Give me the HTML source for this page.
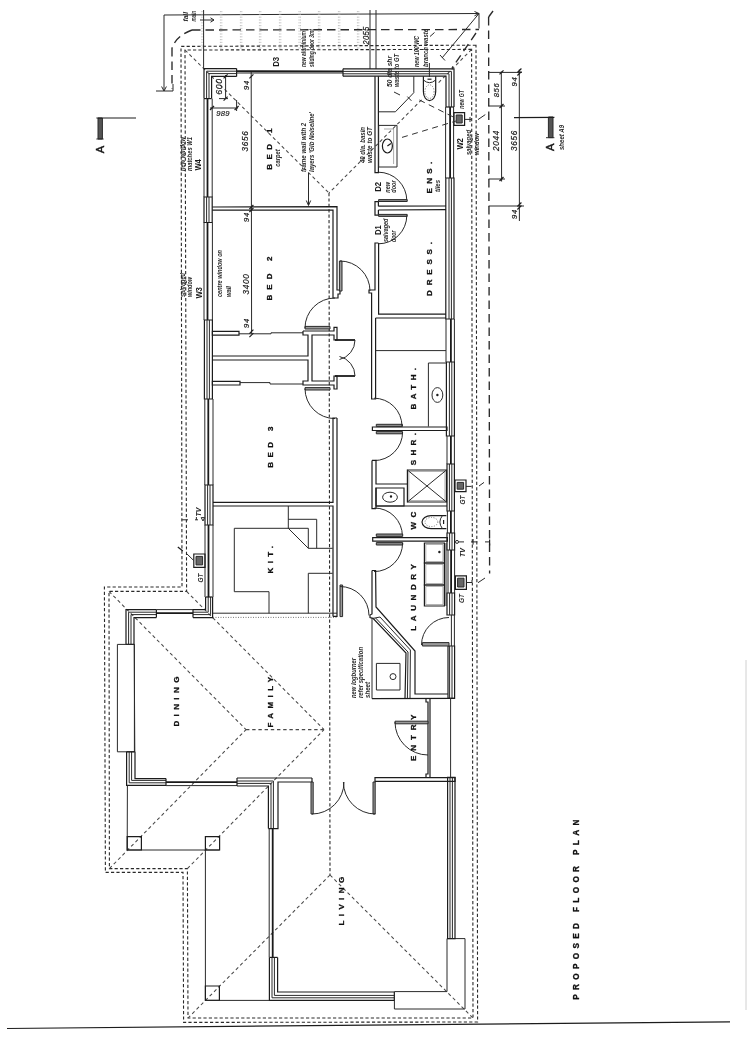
<!DOCTYPE html>
<html><head><meta charset="utf-8"><title>Proposed Floor Plan</title>
<style>
html,body{margin:0;padding:0;background:#fff;}
body{width:749px;height:1060px;overflow:hidden;}
svg{display:block;filter:blur(0.3px)}
text{font-family:"Liberation Sans",sans-serif;fill:#222;}
.i{font-style:italic;stroke:#222;stroke-width:0.2px;}
.ib{font-style:italic;font-weight:bold;fill:#2a2a2a;}
.r{font-weight:bold;fill:#111;stroke:#111;stroke-width:0.3px;}
.b{font-weight:bold;fill:#1a1a1a;}
.a{font-weight:normal;fill:#111;stroke:#111;stroke-width:0.45px;}
</style></head><body>
<svg width="749" height="1060" viewBox="0 0 749 1060">
<rect width="749" height="1060" fill="#fff"/>
<line x1="7" y1="1028.5" x2="730" y2="1021.8" stroke="#1c1c1c" stroke-width="1.2"/>
<line x1="746" y1="660" x2="746" y2="1010" stroke="#d0d0d0" stroke-width="1"/>
<line x1="164" y1="15" x2="479" y2="13.5" stroke="#2a2a2a" stroke-width="1"/>
<line x1="164" y1="15" x2="164" y2="91" stroke="#2a2a2a" stroke-width="1"/>
<polyline points="161.6,86.5 164,91 166.4,86.5" fill="none" stroke="#2a2a2a" stroke-width="1"/>
<line x1="156" y1="91" x2="173" y2="91" stroke="#2a2a2a" stroke-width="1"/>
<polyline points="474.5,11.5 479,13.5 474.5,15.8" fill="none" stroke="#2a2a2a" stroke-width="1"/>
<line x1="479" y1="13.5" x2="479" y2="28.5" stroke="#2a2a2a" stroke-width="1"/>
<line x1="479" y1="13.5" x2="442" y2="58" stroke="#2a2a2a" stroke-width="1"/>
<line x1="440" y1="55" x2="445" y2="60.5" stroke="#2a2a2a" stroke-width="1"/>
<line x1="200" y1="20" x2="214" y2="20" stroke="#2a2a2a" stroke-width="1"/>
<polyline points="210.5,17.8 214,20 210.5,22.2" fill="none" stroke="#2a2a2a" stroke-width="1"/>
<line x1="192" y1="30" x2="479" y2="29.5" stroke="#2a2a2a" stroke-width="1.35" stroke-dasharray="8.5 5"/>
<path d="M192 30 Q176 36 172 48" fill="none" stroke="#2a2a2a" stroke-width="1.35" stroke-dasharray="8.5 5"/>
<line x1="172" y1="48" x2="172" y2="89" stroke="#2a2a2a" stroke-width="1.35" stroke-dasharray="8.5 5"/>
<line x1="173" y1="84" x2="173" y2="91" stroke="#2a2a2a" stroke-width="1"/>
<line x1="488.6" y1="17" x2="489.6" y2="573.5" stroke="#2a2a2a" stroke-width="1.35" stroke-dasharray="8.5 5"/>
<line x1="493" y1="11" x2="488.6" y2="17" stroke="#2a2a2a" stroke-width="1.35" stroke-dasharray="8.5 5"/>
<line x1="476" y1="33" x2="452" y2="68" stroke="#2a2a2a" stroke-width="1.35" stroke-dasharray="8.5 5"/>
<line x1="201.9" y1="11" x2="201.9" y2="50" stroke="#aaa" stroke-width="0.7" stroke-dasharray="1.2 1.6"/>
<line x1="203.3" y1="11" x2="203.3" y2="50" stroke="#aaa" stroke-width="0.7" stroke-dasharray="1.2 1.6"/>
<line x1="220.4" y1="11" x2="220.4" y2="50" stroke="#aaa" stroke-width="0.7" stroke-dasharray="1.2 1.6"/>
<line x1="221.8" y1="11" x2="221.8" y2="50" stroke="#aaa" stroke-width="0.7" stroke-dasharray="1.2 1.6"/>
<line x1="240.4" y1="11" x2="240.4" y2="50" stroke="#aaa" stroke-width="0.7" stroke-dasharray="1.2 1.6"/>
<line x1="241.8" y1="11" x2="241.8" y2="50" stroke="#aaa" stroke-width="0.7" stroke-dasharray="1.2 1.6"/>
<line x1="259.4" y1="11" x2="259.4" y2="50" stroke="#aaa" stroke-width="0.7" stroke-dasharray="1.2 1.6"/>
<line x1="260.8" y1="11" x2="260.8" y2="50" stroke="#aaa" stroke-width="0.7" stroke-dasharray="1.2 1.6"/>
<line x1="279.4" y1="11" x2="279.4" y2="50" stroke="#aaa" stroke-width="0.7" stroke-dasharray="1.2 1.6"/>
<line x1="280.8" y1="11" x2="280.8" y2="50" stroke="#aaa" stroke-width="0.7" stroke-dasharray="1.2 1.6"/>
<line x1="299" y1="11" x2="299" y2="50" stroke="#aaa" stroke-width="0.7" stroke-dasharray="1.2 1.6"/>
<line x1="300.4" y1="11" x2="300.4" y2="50" stroke="#aaa" stroke-width="0.7" stroke-dasharray="1.2 1.6"/>
<line x1="318.4" y1="11" x2="318.4" y2="50" stroke="#aaa" stroke-width="0.7" stroke-dasharray="1.2 1.6"/>
<line x1="319.8" y1="11" x2="319.8" y2="50" stroke="#aaa" stroke-width="0.7" stroke-dasharray="1.2 1.6"/>
<line x1="338.4" y1="11" x2="338.4" y2="50" stroke="#aaa" stroke-width="0.7" stroke-dasharray="1.2 1.6"/>
<line x1="339.8" y1="11" x2="339.8" y2="50" stroke="#aaa" stroke-width="0.7" stroke-dasharray="1.2 1.6"/>
<line x1="357.4" y1="11" x2="357.4" y2="50" stroke="#aaa" stroke-width="0.7" stroke-dasharray="1.2 1.6"/>
<line x1="358.8" y1="11" x2="358.8" y2="50" stroke="#aaa" stroke-width="0.7" stroke-dasharray="1.2 1.6"/>
<line x1="203.6" y1="10" x2="203.6" y2="68" stroke="#2a2a2a" stroke-width="1"/>
<line x1="370" y1="10" x2="370" y2="69" stroke="#2a2a2a" stroke-width="1"/>
<line x1="376" y1="10" x2="376" y2="69" stroke="#2a2a2a" stroke-width="1"/>
<text transform="translate(369 35.5) rotate(-90) scale(0.95 1)" class="i" font-size="8.2" text-anchor="middle" letter-spacing="0.3">2055</text>
<polygon points="476,45.2 181,46.4 182,587 104.4,587 105.4,872.4 183,872.4 183.6,1022.4 477.6,1022 476,45.2" fill="none" stroke="#2a2a2a" stroke-width="1.1" stroke-dasharray="3.2 2.2"/>
<polygon points="471.6,49.4 185,50 186.6,591.4 109,591.4 109.4,868.6 187.4,868.6 188,1018 473,1018 471.6,49.4" fill="none" stroke="#2a2a2a" stroke-width="1.1" stroke-dasharray="3.2 2.2"/>
<line x1="185" y1="50" x2="329" y2="193" stroke="#484848" stroke-width="1.05" stroke-dasharray="3.4 2.8"/>
<line x1="471.6" y1="49.4" x2="437.4" y2="83.9" stroke="#484848" stroke-width="1.05" stroke-dasharray="3.4 2.8"/>
<line x1="421.6" y1="99.8" x2="329" y2="193" stroke="#484848" stroke-width="1.05" stroke-dasharray="3.4 2.8"/>
<line x1="329" y1="193" x2="330" y2="875" stroke="#2a2a2a" stroke-width="1.1" stroke-dasharray="3.2 2.2"/>
<line x1="330" y1="875" x2="188" y2="1018" stroke="#484848" stroke-width="1.05" stroke-dasharray="3.4 2.8"/>
<line x1="330" y1="875" x2="473" y2="1018" stroke="#484848" stroke-width="1.05" stroke-dasharray="3.4 2.8"/>
<line x1="109" y1="591.4" x2="246" y2="729.6" stroke="#484848" stroke-width="1.05" stroke-dasharray="3.4 2.8"/>
<line x1="109.4" y1="868.6" x2="246" y2="729.6" stroke="#484848" stroke-width="1.05" stroke-dasharray="3.4 2.8"/>
<line x1="246" y1="729.6" x2="324" y2="729.6" stroke="#484848" stroke-width="1.05" stroke-dasharray="3.4 2.8"/>
<line x1="186.6" y1="591.4" x2="324" y2="729.6" stroke="#484848" stroke-width="1.05" stroke-dasharray="3.4 2.8"/>
<line x1="187.4" y1="868.6" x2="324" y2="729.6" stroke="#484848" stroke-width="1.05" stroke-dasharray="3.4 2.8"/>
<polyline points="236.6,68.6 204,68.6 204,98.6" fill="none" stroke="#1c1c1c" stroke-width="1.2"/>
<polyline points="236.6,71.2 206.6,71.2 206.6,98.6" fill="none" stroke="#2a2a2a" stroke-width="1"/>
<polyline points="236.6,73.6 209,73.6 209,98.6" fill="none" stroke="#2a2a2a" stroke-width="1"/>
<polyline points="236.6,76.4 211.6,76.4 211.6,98.6" fill="none" stroke="#1c1c1c" stroke-width="1.2"/>
<line x1="236.6" y1="68.6" x2="236.6" y2="76.4" stroke="#1c1c1c" stroke-width="1.2"/>
<line x1="204" y1="98.6" x2="211.6" y2="98.6" stroke="#1c1c1c" stroke-width="1.2"/>
<polyline points="343,68.8 454,68.8 454,107" fill="none" stroke="#1c1c1c" stroke-width="1.2"/>
<polyline points="343,71.4 451.4,71.4 451.4,107" fill="none" stroke="#2a2a2a" stroke-width="1"/>
<polyline points="343,73.8 449,73.8 449,107" fill="none" stroke="#2a2a2a" stroke-width="1"/>
<polyline points="343,76.2 446,76.2 446,107" fill="none" stroke="#1c1c1c" stroke-width="1.2"/>
<line x1="343" y1="68.8" x2="343" y2="76.2" stroke="#1c1c1c" stroke-width="1.2"/>
<line x1="454" y1="107" x2="446" y2="107" stroke="#1c1c1c" stroke-width="1.2"/>
<line x1="236.6" y1="71.2" x2="343" y2="71.4" stroke="#1a1a1a" stroke-width="1.8"/>
<line x1="236.6" y1="73" x2="343" y2="73" stroke="#2a2a2a" stroke-width="1"/>
<line x1="204" y1="98.6" x2="204" y2="197" stroke="#2a2a2a" stroke-width="1"/>
<line x1="207.5" y1="98.6" x2="207.5" y2="197" stroke="#1a1a1a" stroke-width="1.8"/>
<line x1="212.2" y1="98.6" x2="212.2" y2="197" stroke="#2a2a2a" stroke-width="1"/>
<polygon points="204,197 212.2,197 212.2,222.5 204,222.5" fill="none" stroke="#1c1c1c" stroke-width="1.2"/>
<line x1="206.6" y1="197" x2="206.6" y2="222.5" stroke="#2a2a2a" stroke-width="1"/>
<line x1="209" y1="197" x2="209" y2="222.5" stroke="#2a2a2a" stroke-width="1"/>
<line x1="204" y1="222.5" x2="204" y2="320" stroke="#2a2a2a" stroke-width="1"/>
<line x1="207.5" y1="222.5" x2="207.5" y2="320" stroke="#1a1a1a" stroke-width="1.8"/>
<line x1="212.4" y1="222.5" x2="212.4" y2="320" stroke="#2a2a2a" stroke-width="1"/>
<polygon points="204.4,320 212.4,320 212.4,399 204.4,399" fill="none" stroke="#1c1c1c" stroke-width="1.2"/>
<line x1="207" y1="320" x2="207" y2="399" stroke="#2a2a2a" stroke-width="1"/>
<line x1="209.4" y1="320" x2="209.4" y2="399" stroke="#2a2a2a" stroke-width="1"/>
<line x1="204.8" y1="399" x2="204.8" y2="485" stroke="#2a2a2a" stroke-width="1"/>
<line x1="208.3" y1="399" x2="208.3" y2="485" stroke="#1a1a1a" stroke-width="1.8"/>
<line x1="213" y1="399" x2="213" y2="485" stroke="#2a2a2a" stroke-width="1"/>
<polygon points="205,485 213,485 213,525 205,525" fill="none" stroke="#1c1c1c" stroke-width="1.2"/>
<line x1="207.6" y1="485" x2="207.6" y2="525" stroke="#2a2a2a" stroke-width="1"/>
<line x1="210" y1="485" x2="210" y2="525" stroke="#2a2a2a" stroke-width="1"/>
<line x1="205" y1="525" x2="205" y2="597" stroke="#2a2a2a" stroke-width="1"/>
<line x1="208.5" y1="525" x2="208.5" y2="597" stroke="#1a1a1a" stroke-width="1.8"/>
<line x1="213" y1="525" x2="213" y2="597" stroke="#2a2a2a" stroke-width="1"/>
<line x1="453.6" y1="107" x2="453.6" y2="178" stroke="#2a2a2a" stroke-width="1"/>
<line x1="450.1" y1="107" x2="450.1" y2="178" stroke="#1a1a1a" stroke-width="1.8"/>
<line x1="445.6" y1="107" x2="445.6" y2="178" stroke="#2a2a2a" stroke-width="1"/>
<polygon points="454,178 445.8,178 445.8,319 454,319" fill="none" stroke="#1c1c1c" stroke-width="1.2"/>
<line x1="451.4" y1="178" x2="451.4" y2="319" stroke="#2a2a2a" stroke-width="1"/>
<line x1="449" y1="178" x2="449" y2="319" stroke="#2a2a2a" stroke-width="1"/>
<line x1="454.4" y1="319" x2="454.4" y2="362" stroke="#2a2a2a" stroke-width="1"/>
<line x1="450.9" y1="319" x2="450.9" y2="362" stroke="#1a1a1a" stroke-width="1.8"/>
<line x1="446" y1="319" x2="446" y2="362" stroke="#2a2a2a" stroke-width="1"/>
<polygon points="454.4,362 446.4,362 446.4,436 454.4,436" fill="none" stroke="#1c1c1c" stroke-width="1.2"/>
<line x1="451.8" y1="362" x2="451.8" y2="436" stroke="#2a2a2a" stroke-width="1"/>
<line x1="449.4" y1="362" x2="449.4" y2="436" stroke="#2a2a2a" stroke-width="1"/>
<line x1="454.4" y1="436" x2="454.4" y2="464" stroke="#2a2a2a" stroke-width="1"/>
<line x1="450.9" y1="436" x2="450.9" y2="464" stroke="#1a1a1a" stroke-width="1.8"/>
<line x1="447" y1="436" x2="447" y2="464" stroke="#2a2a2a" stroke-width="1"/>
<polygon points="454.4,464 447,464 447,511 454.4,511" fill="none" stroke="#1c1c1c" stroke-width="1.2"/>
<line x1="451.8" y1="464" x2="451.8" y2="511" stroke="#2a2a2a" stroke-width="1"/>
<line x1="449.4" y1="464" x2="449.4" y2="511" stroke="#2a2a2a" stroke-width="1"/>
<line x1="454.4" y1="511" x2="454.4" y2="533" stroke="#2a2a2a" stroke-width="1"/>
<line x1="450.9" y1="511" x2="450.9" y2="533" stroke="#1a1a1a" stroke-width="1.8"/>
<line x1="447.4" y1="511" x2="447.4" y2="533" stroke="#2a2a2a" stroke-width="1"/>
<polygon points="454.6,533 447,533 447,550 454.6,550" fill="none" stroke="#1c1c1c" stroke-width="1.2"/>
<line x1="452" y1="533" x2="452" y2="550" stroke="#2a2a2a" stroke-width="1"/>
<line x1="449.6" y1="533" x2="449.6" y2="550" stroke="#2a2a2a" stroke-width="1"/>
<line x1="454.6" y1="550" x2="454.6" y2="593" stroke="#2a2a2a" stroke-width="1"/>
<line x1="451.1" y1="550" x2="451.1" y2="593" stroke="#1a1a1a" stroke-width="1.8"/>
<line x1="448" y1="550" x2="448" y2="593" stroke="#2a2a2a" stroke-width="1"/>
<polygon points="454.6,593 447,593 447,615 454.6,615" fill="none" stroke="#1c1c1c" stroke-width="1.2"/>
<line x1="452" y1="593" x2="452" y2="615" stroke="#2a2a2a" stroke-width="1"/>
<line x1="449.6" y1="593" x2="449.6" y2="615" stroke="#2a2a2a" stroke-width="1"/>
<line x1="451.4" y1="615" x2="451.4" y2="646" stroke="#2a2a2a" stroke-width="1"/>
<line x1="454.4" y1="615" x2="454.4" y2="646" stroke="#2a2a2a" stroke-width="1"/>
<polygon points="454.6,646 448,646 448,698.4 454.6,698.4" fill="none" stroke="#1c1c1c" stroke-width="1.2"/>
<line x1="452" y1="646" x2="452" y2="698.4" stroke="#2a2a2a" stroke-width="1"/>
<line x1="449.6" y1="646" x2="449.6" y2="698.4" stroke="#2a2a2a" stroke-width="1"/>
<polyline points="156.4,609.6 126,609.6 126,644.4" fill="none" stroke="#1c1c1c" stroke-width="1.2"/>
<polyline points="156.4,612.2 128.6,612.2 128.6,644.4" fill="none" stroke="#2a2a2a" stroke-width="1"/>
<polyline points="156.4,614.6 131,614.6 131,644.4" fill="none" stroke="#2a2a2a" stroke-width="1"/>
<polyline points="156.4,617.6 134,617.6 134,644.4" fill="none" stroke="#1c1c1c" stroke-width="1.2"/>
<line x1="156.4" y1="609.6" x2="156.4" y2="617.6" stroke="#1c1c1c" stroke-width="1.2"/>
<line x1="126" y1="644.4" x2="134" y2="644.4" stroke="#1c1c1c" stroke-width="1.2"/>
<line x1="156.4" y1="609.6" x2="193" y2="609.6" stroke="#2a2a2a" stroke-width="1"/>
<line x1="156.4" y1="613.1" x2="193" y2="613.1" stroke="#1a1a1a" stroke-width="1.8"/>
<polyline points="193,609.6 205.6,609.6 205.6,597" fill="none" stroke="#1c1c1c" stroke-width="1.2"/>
<polyline points="193,612.2 208.2,612.2 208.2,597" fill="none" stroke="#2a2a2a" stroke-width="1"/>
<polyline points="193,614.6 210.6,614.6 210.6,597" fill="none" stroke="#2a2a2a" stroke-width="1"/>
<polyline points="193,617.6 212.6,617.6 212.6,597" fill="none" stroke="#1c1c1c" stroke-width="1.2"/>
<line x1="193" y1="609.6" x2="193" y2="617.6" stroke="#1c1c1c" stroke-width="1.2"/>
<line x1="205.6" y1="597" x2="212.6" y2="597" stroke="#1c1c1c" stroke-width="1.2"/>
<polygon points="117.4,644.4 134.4,644.4 134.4,751.8 117.4,751.8" fill="none" stroke="#2a2a2a" stroke-width="1"/>
<line x1="134.2" y1="644" x2="134.8" y2="752" stroke="#2a2a2a" stroke-width="1"/>
<polyline points="166,785.4 126.6,785.4 126.6,751.8" fill="none" stroke="#1c1c1c" stroke-width="1.2"/>
<polyline points="166,782.8 129.2,782.8 129.2,751.8" fill="none" stroke="#2a2a2a" stroke-width="1"/>
<polyline points="166,780.4 131.6,780.4 131.6,751.8" fill="none" stroke="#2a2a2a" stroke-width="1"/>
<polyline points="166,778.6 135,778.6 135,751.8" fill="none" stroke="#1c1c1c" stroke-width="1.2"/>
<line x1="166" y1="785.4" x2="166" y2="778.6" stroke="#1c1c1c" stroke-width="1.2"/>
<line x1="126.6" y1="751.8" x2="135" y2="751.8" stroke="#1c1c1c" stroke-width="1.2"/>
<line x1="166" y1="785.6" x2="237" y2="785.6" stroke="#2a2a2a" stroke-width="1"/>
<line x1="166" y1="782.1" x2="237" y2="782.1" stroke="#1a1a1a" stroke-width="1.8"/>
<polyline points="237,786 268.4,786 268.4,828.6" fill="none" stroke="#1c1c1c" stroke-width="1.2"/>
<polyline points="237,783.4 271,783.4 271,828.6" fill="none" stroke="#2a2a2a" stroke-width="1"/>
<polyline points="237,781 273.4,781 273.4,828.6" fill="none" stroke="#2a2a2a" stroke-width="1"/>
<line x1="237" y1="778" x2="312" y2="778" stroke="#1c1c1c" stroke-width="1.2"/>
<line x1="237" y1="778" x2="237" y2="786" stroke="#1c1c1c" stroke-width="1.2"/>
<polyline points="312,782 278,782 278,828.6 268.4,828.6" fill="none" stroke="#1c1c1c" stroke-width="1.2"/>
<line x1="269.2" y1="828.6" x2="269.2" y2="957.4" stroke="#2a2a2a" stroke-width="1"/>
<line x1="272.7" y1="828.6" x2="272.7" y2="957.4" stroke="#1a1a1a" stroke-width="1.8"/>
<polyline points="394.4,1000.4 269.4,1000.4 269.4,957.4" fill="none" stroke="#1c1c1c" stroke-width="1.2"/>
<polyline points="394.4,997.8 272,997.8 272,957.4" fill="none" stroke="#2a2a2a" stroke-width="1"/>
<polyline points="394.4,995.4 274.4,995.4 274.4,957.4" fill="none" stroke="#2a2a2a" stroke-width="1"/>
<polyline points="394.4,992 277.6,992 277.6,957.4" fill="none" stroke="#1c1c1c" stroke-width="1.2"/>
<line x1="394.4" y1="1000.4" x2="394.4" y2="992" stroke="#1c1c1c" stroke-width="1.2"/>
<line x1="269.4" y1="957.4" x2="277.6" y2="957.4" stroke="#1c1c1c" stroke-width="1.2"/>
<polygon points="394.4,991.6 394.4,1009 465,1009 465,938.6 447,938.6 447,991.6" fill="none" stroke="#2a2a2a" stroke-width="1"/>
<polygon points="455,777.4 447.6,777.4 447.6,938.6 455,938.6" fill="none" stroke="#1c1c1c" stroke-width="1.2"/>
<line x1="452.4" y1="777.4" x2="452.4" y2="938.6" stroke="#2a2a2a" stroke-width="1"/>
<line x1="450" y1="777.4" x2="450" y2="938.6" stroke="#2a2a2a" stroke-width="1"/>
<line x1="312" y1="778" x2="312" y2="782" stroke="#1c1c1c" stroke-width="1.2"/>
<polygon points="375,777.6 455,777.6 455,781.4 375,781.4" fill="none" stroke="#1c1c1c" stroke-width="1.2"/>
<line x1="127.4" y1="785.4" x2="127.2" y2="850" stroke="#2a2a2a" stroke-width="1"/>
<line x1="127.2" y1="850" x2="219.6" y2="850" stroke="#2a2a2a" stroke-width="1"/>
<polygon points="127.2,836.6 141.4,836.6 141.4,850 127.2,850" fill="none" stroke="#1c1c1c" stroke-width="1.2"/>
<polygon points="205.4,836.6 219.6,836.6 219.6,850 205.4,850" fill="none" stroke="#1c1c1c" stroke-width="1.2"/>
<line x1="205.4" y1="850" x2="205.4" y2="1000.4" stroke="#2a2a2a" stroke-width="1"/>
<polygon points="205.4,986 219.4,986 219.4,1000.4 205.4,1000.4" fill="none" stroke="#1c1c1c" stroke-width="1.2"/>
<line x1="205.4" y1="1000.4" x2="269.4" y2="1000.4" stroke="#2a2a2a" stroke-width="1"/>
<polyline points="212.2,207 337,206.6 337,290 340,290 340,294 338,294 338,298 334,298" fill="none" stroke="#1c1c1c" stroke-width="1.2"/>
<polyline points="212.2,210.2 333,210 333,298 334,298" fill="none" stroke="#1c1c1c" stroke-width="1.2"/>
<polyline points="375,76.2 375,172.7 378.4,172.7 378.4,76.2" fill="none" stroke="#1c1c1c" stroke-width="1.2"/>
<polyline points="378.4,206.2 378.4,201.6 375,201.6 375,215.2 378.4,215.2 378.4,210" fill="none" stroke="#1c1c1c" stroke-width="1.2"/>
<line x1="378.4" y1="206.2" x2="446" y2="206" stroke="#1c1c1c" stroke-width="1.2"/>
<line x1="378.4" y1="210" x2="446" y2="209.6" stroke="#1c1c1c" stroke-width="1.2"/>
<polyline points="378.4,243 375,243 375,290 369,290 369,293 371.6,293 371.6,399 375.6,399 375.6,318" fill="none" stroke="#1c1c1c" stroke-width="1.2"/>
<polyline points="378.6,243 378.6,314.2 446,314.2" fill="none" stroke="#1c1c1c" stroke-width="1.2"/>
<line x1="375.6" y1="318" x2="446" y2="318" stroke="#1c1c1c" stroke-width="1.2"/>
<line x1="375.6" y1="350.6" x2="446" y2="350.6" stroke="#2a2a2a" stroke-width="1"/>
<polyline points="446,363 428.4,363 428.4,426.5" fill="none" stroke="#2a2a2a" stroke-width="1"/>
<ellipse cx="437.4" cy="395" rx="5.4" ry="7.4" fill="none" stroke="#2a2a2a" stroke-width="1"/>
<ellipse cx="437.4" cy="395" rx="0.6" ry="0.6" fill="#222" stroke="#1c1c1c" stroke-width="1.2"/>
<polygon points="372.4,427 447,427 447,430.5 372.4,430.5" fill="none" stroke="#1c1c1c" stroke-width="1.2"/>
<polygon points="376.3,424.3 402.4,424.3 402.4,426.6 376.3,426.6" fill="#8a8a8a" stroke="#2a2a2a" stroke-width="1"/>
<polygon points="376.3,431.4 402.4,431.4 402.4,433.8 376.3,433.8" fill="#8a8a8a" stroke="#2a2a2a" stroke-width="1"/>
<path d="M374 398.2 A28 28 0 0 1 402 426.2" fill="none" stroke="#2a2a2a" stroke-width="1"/>
<path d="M402.6 432 A28.6 28.6 0 0 1 374 460.6" fill="none" stroke="#2a2a2a" stroke-width="1"/>
<polyline points="372,460.4 372,508.7 376,508.7" fill="none" stroke="#1c1c1c" stroke-width="1.2"/>
<polyline points="372,460.4 376,460.4 376,484 407,484" fill="none" stroke="#1c1c1c" stroke-width="1.2"/>
<line x1="376" y1="487.8" x2="376" y2="508.7" stroke="#1c1c1c" stroke-width="1.2"/>
<polygon points="376,488 404,488 404,506 376,506" fill="none" stroke="#1c1c1c" stroke-width="1.2"/>
<line x1="376" y1="506" x2="447" y2="506" stroke="#1c1c1c" stroke-width="1.2"/>
<ellipse cx="390" cy="497.2" rx="7.4" ry="5" fill="none" stroke="#2a2a2a" stroke-width="1"/>
<ellipse cx="391" cy="496.5" rx="0.6" ry="0.6" fill="#222" stroke="#1c1c1c" stroke-width="1.2"/>
<polygon points="407.4,470 446.5,470 446.5,502 407.4,502" fill="none" stroke="#1c1c1c" stroke-width="1.2"/>
<polygon points="408.8,471.4 445,471.4 445,500.6 408.8,500.6" fill="none" stroke="#888" stroke-width="0.7"/>
<line x1="407.4" y1="470" x2="446.5" y2="502" stroke="#2a2a2a" stroke-width="1"/>
<line x1="407.4" y1="502" x2="446.5" y2="470" stroke="#2a2a2a" stroke-width="1"/>
<path d="M374.4 508 A28 28 0 0 1 402.4 536" fill="none" stroke="#2a2a2a" stroke-width="1"/>
<polygon points="372.7,537.6 447.4,537.6 447.4,541.2 372.7,541.2" fill="none" stroke="#1c1c1c" stroke-width="1.2"/>
<polygon points="376.3,534 402.7,534 402.7,536.4 376.3,536.4" fill="#8a8a8a" stroke="#2a2a2a" stroke-width="1"/>
<polygon points="376.3,542.6 402.7,542.6 402.7,545 376.3,545" fill="#8a8a8a" stroke="#2a2a2a" stroke-width="1"/>
<path d="M402.6 543 A28.6 28.6 0 0 1 374 571.6" fill="none" stroke="#2a2a2a" stroke-width="1"/>
<path d="M446.4 515.6 L431 515.6 A9 6.5 0 0 0 431 528.6 L446.4 528.6" fill="none" stroke="#1c1c1c" stroke-width="1.2"/>
<path d="M442.4 515.6 Q437.4 522 442.4 528.6" fill="none" stroke="#2a2a2a" stroke-width="1"/>
<ellipse cx="431.4" cy="522" rx="6.4" ry="4.6" fill="none" stroke="#555" stroke-width="0.8" stroke-dasharray="1 1.5"/>
<line x1="443.6" y1="520" x2="443.6" y2="524" stroke="#1c1c1c" stroke-width="1.2"/>
<polyline points="372,570.5 372,614 370,615 370,617.6 373,618.4 406,653 405,698.6" fill="none" stroke="#1c1c1c" stroke-width="1.2"/>
<polyline points="372,570.5 375.6,570.5 376,607 415,651 415,694 448,694" fill="none" stroke="#1c1c1c" stroke-width="1.2"/>
<polyline points="375.6,618 408,652 407.4,698.6" fill="none" stroke="#2a2a2a" stroke-width="1"/>
<polyline points="380,617 410.4,650 410,698.6" fill="none" stroke="#2a2a2a" stroke-width="1"/>
<polyline points="373,618.4 380,617" fill="none" stroke="#2a2a2a" stroke-width="1"/>
<line x1="372" y1="618" x2="372" y2="698.6" stroke="#2a2a2a" stroke-width="1"/>
<line x1="372" y1="698.6" x2="454.6" y2="698.4" stroke="#1c1c1c" stroke-width="1.2"/>
<polygon points="376.4,663.4 400,663.4 400,690 376.4,690" fill="none" stroke="#2a2a2a" stroke-width="1"/>
<ellipse cx="393" cy="676.6" rx="3" ry="3" fill="none" stroke="#2a2a2a" stroke-width="1"/>
<polygon points="424.4,543 444.4,543 444.4,563 424.4,563" fill="none" stroke="#1c1c1c" stroke-width="1.2"/>
<polygon points="425.8,544.4 443,544.4 443,561.6 425.8,561.6" fill="none" stroke="#888" stroke-width="0.7"/>
<polygon points="424.4,563 444.4,563 444.4,585 424.4,585" fill="none" stroke="#1c1c1c" stroke-width="1.2"/>
<polygon points="425.8,564.4 443,564.4 443,583.6 425.8,583.6" fill="none" stroke="#888" stroke-width="0.7"/>
<polygon points="424.4,585 444.4,585 444.4,606 424.4,606" fill="none" stroke="#1c1c1c" stroke-width="1.2"/>
<polygon points="425.8,586.4 443,586.4 443,604.6 425.8,604.6" fill="none" stroke="#888" stroke-width="0.7"/>
<line x1="446" y1="543" x2="446" y2="606" stroke="#2a2a2a" stroke-width="1"/>
<ellipse cx="439.4" cy="552" rx="0.6" ry="0.6" fill="#222" stroke="#1c1c1c" stroke-width="1.2"/>
<polygon points="422.4,642.6 449,642.6 449,646 422.4,646" fill="#9a9a9a" stroke="#2a2a2a" stroke-width="1"/>
<path d="M421.5 645 A27.5 27.5 0 0 1 449 617.5" fill="none" stroke="#2a2a2a" stroke-width="1"/>
<polyline points="426,698.6 426,702 428,702 428,774 426,774 426,777.6" fill="none" stroke="#1c1c1c" stroke-width="1.2"/>
<polyline points="430,698.6 430,777.6" fill="none" stroke="#1c1c1c" stroke-width="1.2"/>
<line x1="450.6" y1="698.4" x2="450.6" y2="777.4" stroke="#2a2a2a" stroke-width="1"/>
<polygon points="395,721.2 428,721.2 428,723.8 395,723.8" fill="#9a9a9a" stroke="#2a2a2a" stroke-width="1"/>
<path d="M395 722 A33 33 0 0 0 428 755" fill="none" stroke="#2a2a2a" stroke-width="1"/>
<polygon points="311,782 313.2,782 313.2,814 311,814" fill="#9a9a9a" stroke="#2a2a2a" stroke-width="1"/>
<polygon points="373,782 375.2,782 375.2,814 373,814" fill="#9a9a9a" stroke="#2a2a2a" stroke-width="1"/>
<path d="M312 814 A32 32 0 0 0 344 782" fill="none" stroke="#2a2a2a" stroke-width="1"/>
<path d="M375.4 814 A32 32 0 0 1 343.4 782" fill="none" stroke="#2a2a2a" stroke-width="1"/>
<polygon points="339.4,261 342,261 342,291 339.4,291" fill="#9a9a9a" stroke="#2a2a2a" stroke-width="1"/>
<path d="M340 261 A30 30 0 0 1 370 291" fill="none" stroke="#2a2a2a" stroke-width="1"/>
<polygon points="378.6,214.4 407.2,214.4 407.2,216.4 378.6,216.4" fill="#8a8a8a" stroke="#2a2a2a" stroke-width="1"/>
<path d="M406.8 215.4 A28.4 28.4 0 0 1 378.4 243.8" fill="none" stroke="#2a2a2a" stroke-width="1"/>
<path d="M378.4 172.2 A28.4 28.4 0 0 1 406.8 200.6" fill="none" stroke="#2a2a2a" stroke-width="1"/>
<polygon points="378.6,199.6 407.2,199.6 407.2,201.5 378.6,201.5" fill="#8a8a8a" stroke="#2a2a2a" stroke-width="1"/>
<polygon points="212.4,331.4 239,331.4 239,335.2 212.4,335.2" fill="none" stroke="#1c1c1c" stroke-width="1.2"/>
<line x1="239" y1="333.8" x2="271" y2="333.8" stroke="#2a2a2a" stroke-width="1"/>
<line x1="271" y1="332.8" x2="303" y2="332.8" stroke="#2a2a2a" stroke-width="1"/>
<line x1="271" y1="332.8" x2="271" y2="333.8" stroke="#2a2a2a" stroke-width="1"/>
<polyline points="303,331 303,335 308,335 308,356 212.4,356" fill="none" stroke="#1c1c1c" stroke-width="1.2"/>
<polyline points="303,331 334,331 334,327.4 337,327.4 337,340 334,340 334,335 312,335 312,381 334,381 334,376 337,376 337,389 334,389 334,385 303,385 303,381 308,381 308,360 212.4,360" fill="none" stroke="#1c1c1c" stroke-width="1.2"/>
<polygon points="305,326.4 330,326.4 330,329 305,329" fill="#9a9a9a" stroke="#2a2a2a" stroke-width="1"/>
<path d="M305 328 A30 30 0 0 1 335 298" fill="none" stroke="#2a2a2a" stroke-width="1"/>
<polygon points="305,387.6 330,387.6 330,390 305,390" fill="#9a9a9a" stroke="#2a2a2a" stroke-width="1"/>
<path d="M305 388.6 A30 30 0 0 0 335 418.6" fill="none" stroke="#2a2a2a" stroke-width="1"/>
<polygon points="212.4,381.4 240,381.4 240,385 212.4,385" fill="none" stroke="#1c1c1c" stroke-width="1.2"/>
<line x1="240" y1="382.6" x2="270" y2="382.6" stroke="#2a2a2a" stroke-width="1"/>
<line x1="270" y1="384" x2="303" y2="384" stroke="#2a2a2a" stroke-width="1"/>
<line x1="270" y1="382.6" x2="270" y2="384" stroke="#2a2a2a" stroke-width="1"/>
<line x1="335" y1="340" x2="355" y2="340" stroke="#1a1a1a" stroke-width="1.8"/>
<line x1="335" y1="376" x2="355" y2="376" stroke="#1a1a1a" stroke-width="1.8"/>
<path d="M355 340 A20 20 0 0 1 339.5 359.5" fill="none" stroke="#2a2a2a" stroke-width="1"/>
<path d="M355 376 A20 20 0 0 0 339.5 356.5" fill="none" stroke="#2a2a2a" stroke-width="1"/>
<polyline points="337,418 337,616.4 333,616.4" fill="none" stroke="#1c1c1c" stroke-width="1.2"/>
<polyline points="337,418 333,418 333,502.4 213,502.4" fill="none" stroke="#1c1c1c" stroke-width="1.2"/>
<polyline points="213,506 333,506 333,616.4" fill="none" stroke="#1c1c1c" stroke-width="1.2"/>
<polygon points="340,585 342.6,585 342.6,616.6 340,616.6" fill="#9a9a9a" stroke="#2a2a2a" stroke-width="1"/>
<path d="M340 586.5 A29 29 0 0 1 369 615.5" fill="none" stroke="#2a2a2a" stroke-width="1"/>
<polyline points="269,613.3 269,591.7 234.3,591.7 234.3,528.3 308.3,528.3" fill="none" stroke="#2a2a2a" stroke-width="1"/>
<polyline points="288.3,506 288.3,528.3 308.3,548.3 332.7,548.3" fill="none" stroke="#2a2a2a" stroke-width="1"/>
<polyline points="288.3,519.3 316.7,519.3 316.7,548.3" fill="none" stroke="#2a2a2a" stroke-width="1"/>
<line x1="308.3" y1="528.3" x2="308.3" y2="548.3" stroke="#2a2a2a" stroke-width="1"/>
<polyline points="332.7,573.3 308.3,573.3 308.3,613.3" fill="none" stroke="#2a2a2a" stroke-width="1"/>
<line x1="213" y1="613.2" x2="337" y2="613.2" stroke="#2a2a2a" stroke-width="1"/>
<line x1="213" y1="617.4" x2="337" y2="617.4" stroke="#555" stroke-width="0.8" stroke-dasharray="1 1.5"/>
<polyline points="413.8,76.2 413.8,92.7 395.4,111.8 378.7,111.8" fill="none" stroke="#2a2a2a" stroke-width="1"/>
<line x1="407.4" y1="96.6" x2="411.4" y2="100.8" stroke="#2a2a2a" stroke-width="1"/>
<polygon points="378.7,125.4 397,125.4 397,167 378.7,167" fill="none" stroke="#2a2a2a" stroke-width="1"/>
<polyline points="384,129 393.6,129 393.6,164" fill="none" stroke="#888" stroke-width="0.7"/>
<ellipse cx="387.4" cy="146" rx="5" ry="7" fill="none" stroke="#1c1c1c" stroke-width="1.2"/>
<line x1="387.4" y1="146" x2="391" y2="143.4" stroke="#1c1c1c" stroke-width="1.2"/>
<path d="M423.4 76.2 L423.4 91.5 A6.15 9.2 0 0 0 435.7 91.5 L435.7 76.2" fill="none" stroke="#1c1c1c" stroke-width="1.2"/>
<path d="M423.4 80 Q429.5 85.4 435.7 80" fill="none" stroke="#2a2a2a" stroke-width="1"/>
<ellipse cx="429.5" cy="91.6" rx="4.6" ry="6.8" fill="none" stroke="#555" stroke-width="0.8" stroke-dasharray="1 1.5"/>
<line x1="427.5" y1="79.2" x2="431.5" y2="79.2" stroke="#1c1c1c" stroke-width="1.2"/>
<line x1="429.4" y1="63" x2="429.4" y2="77" stroke="#2a2a2a" stroke-width="1"/>
<line x1="394" y1="92" x2="400" y2="95" stroke="#2a2a2a" stroke-width="1"/>
<polygon points="454,112.6 464.6,112.6 464.6,125.4 454,125.4" fill="none" stroke="#1c1c1c" stroke-width="1.2"/>
<polygon points="456.2,115 462.2,115 462.2,123 456.2,123" fill="#666" stroke="#2a2a2a" stroke-width="1"/>
<line x1="464.6" y1="119.4" x2="471.6" y2="119.4" stroke="#2a2a2a" stroke-width="1"/>
<line x1="470" y1="117" x2="470" y2="122" stroke="#2a2a2a" stroke-width="1"/>
<line x1="478" y1="119.6" x2="485.3" y2="114.6" stroke="#2a2a2a" stroke-width="1"/>
<polygon points="455,480 466,480 466,491.6 455,491.6" fill="none" stroke="#1c1c1c" stroke-width="1.2"/>
<polygon points="457.2,482.4 463.6,482.4 463.6,489.2 457.2,489.2" fill="#666" stroke="#2a2a2a" stroke-width="1"/>
<line x1="466" y1="486.4" x2="471.6" y2="486.4" stroke="#2a2a2a" stroke-width="1"/>
<line x1="479" y1="486" x2="484" y2="482.4" stroke="#2a2a2a" stroke-width="1"/>
<polygon points="455.4,575.8 466.4,575.8 466.4,589.4 455.4,589.4" fill="none" stroke="#1c1c1c" stroke-width="1.2"/>
<polygon points="457.6,578.2 464,578.2 464,587 457.6,587" fill="#666" stroke="#2a2a2a" stroke-width="1"/>
<polyline points="466.4,582.5 472,582.5 472,580" fill="none" stroke="#2a2a2a" stroke-width="1"/>
<line x1="478" y1="582.7" x2="485" y2="578" stroke="#2a2a2a" stroke-width="1"/>
<polygon points="193.8,554 205,554 205,567.3 193.8,567.3" fill="none" stroke="#1c1c1c" stroke-width="1.2"/>
<polygon points="196,556.4 202.6,556.4 202.6,564.9 196,564.9" fill="#666" stroke="#2a2a2a" stroke-width="1"/>
<line x1="193.6" y1="560.4" x2="186.4" y2="553.4" stroke="#2a2a2a" stroke-width="1"/>
<line x1="177.8" y1="547" x2="182.8" y2="551" stroke="#1c1c1c" stroke-width="1.2"/>
<ellipse cx="457" cy="541.9" rx="1.5" ry="1.5" fill="none" stroke="#2a2a2a" stroke-width="1"/>
<line x1="458.5" y1="541.9" x2="464" y2="541.9" stroke="#2a2a2a" stroke-width="1"/>
<line x1="471" y1="541.9" x2="477.4" y2="541.9" stroke="#2a2a2a" stroke-width="1"/>
<line x1="485" y1="541.9" x2="490" y2="541.9" stroke="#2a2a2a" stroke-width="1"/>
<line x1="473.1" y1="539" x2="473.1" y2="544.6" stroke="#2a2a2a" stroke-width="1"/>
<line x1="489.6" y1="539.5" x2="489.6" y2="545.5" stroke="#1c1c1c" stroke-width="1.2"/>
<polyline points="201.2,517.6 203,521 204.6,517.6 201.2,517.6" fill="none" stroke="#2a2a2a" stroke-width="1"/>
<line x1="181.6" y1="519.8" x2="188" y2="519.8" stroke="#2a2a2a" stroke-width="1"/>
<line x1="195" y1="519.8" x2="198" y2="519.8" stroke="#2a2a2a" stroke-width="1"/>
<line x1="196.4" y1="517" x2="196.4" y2="519.8" stroke="#2a2a2a" stroke-width="1"/>
<line x1="419.4" y1="100" x2="454.5" y2="117.6" stroke="#333" stroke-width="1" stroke-dasharray="6 4.5"/>
<line x1="402" y1="137.4" x2="456" y2="121" stroke="#333" stroke-width="1" stroke-dasharray="6 4.5"/>
<line x1="251.2" y1="72" x2="251.6" y2="333.6" stroke="#2a2a2a" stroke-width="1"/>
<line x1="249.4" y1="78.4" x2="253.4" y2="74.4" stroke="#1c1c1c" stroke-width="1.2"/>
<line x1="249.4" y1="209" x2="253.4" y2="205" stroke="#1c1c1c" stroke-width="1.2"/>
<line x1="249.4" y1="212" x2="253.4" y2="208" stroke="#1c1c1c" stroke-width="1.2"/>
<line x1="249.4" y1="333.6" x2="253.4" y2="329.6" stroke="#1c1c1c" stroke-width="1.2"/>
<line x1="249.4" y1="337.2" x2="253.4" y2="333.2" stroke="#1c1c1c" stroke-width="1.2"/>
<line x1="225.6" y1="75" x2="225.6" y2="99" stroke="#2a2a2a" stroke-width="1"/>
<line x1="223.6" y1="78.4" x2="227.6" y2="74.4" stroke="#1c1c1c" stroke-width="1.2"/>
<line x1="223.6" y1="100.6" x2="227.6" y2="96.6" stroke="#1c1c1c" stroke-width="1.2"/>
<line x1="219" y1="98.6" x2="228" y2="98.6" stroke="#2a2a2a" stroke-width="1"/>
<line x1="210" y1="108" x2="238" y2="108" stroke="#2a2a2a" stroke-width="1"/>
<line x1="210" y1="110" x2="214" y2="106" stroke="#1c1c1c" stroke-width="1.2"/>
<line x1="234.6" y1="110" x2="238.6" y2="106" stroke="#1c1c1c" stroke-width="1.2"/>
<line x1="236.6" y1="100" x2="236.6" y2="111" stroke="#2a2a2a" stroke-width="1"/>
<line x1="488.6" y1="72.4" x2="522" y2="72.4" stroke="#2a2a2a" stroke-width="1"/>
<line x1="488.6" y1="106" x2="505" y2="106" stroke="#2a2a2a" stroke-width="1"/>
<line x1="488.6" y1="179" x2="505" y2="179" stroke="#2a2a2a" stroke-width="1"/>
<line x1="488.6" y1="206" x2="524" y2="206" stroke="#2a2a2a" stroke-width="1"/>
<line x1="501.3" y1="71.5" x2="501.6" y2="181.5" stroke="#2a2a2a" stroke-width="1"/>
<line x1="519.3" y1="69.5" x2="519.4" y2="221" stroke="#2a2a2a" stroke-width="1"/>
<line x1="499.5" y1="74.4" x2="503.5" y2="70.4" stroke="#1c1c1c" stroke-width="1.2"/>
<line x1="499.5" y1="108" x2="503.5" y2="104" stroke="#1c1c1c" stroke-width="1.2"/>
<line x1="499.5" y1="181" x2="503.5" y2="177" stroke="#1c1c1c" stroke-width="1.2"/>
<line x1="517.4" y1="72.5" x2="521.4" y2="68.5" stroke="#1c1c1c" stroke-width="1.2"/>
<line x1="517.4" y1="75.5" x2="521.4" y2="71.5" stroke="#1c1c1c" stroke-width="1.2"/>
<line x1="517.4" y1="206.5" x2="521.4" y2="202.5" stroke="#1c1c1c" stroke-width="1.2"/>
<line x1="517.4" y1="209.5" x2="521.4" y2="205.5" stroke="#1c1c1c" stroke-width="1.2"/>
<line x1="308.5" y1="173" x2="308.5" y2="205" stroke="#2a2a2a" stroke-width="1"/>
<polyline points="306.3,200.5 308.5,205.5 310.7,200.5" fill="none" stroke="#2a2a2a" stroke-width="1"/>
<polygon points="98,118 102.4,118 102.4,139 98,139" fill="#555" stroke="#2a2a2a" stroke-width="1"/>
<line x1="96.4" y1="118" x2="136" y2="118" stroke="#1c1c1c" stroke-width="1.2"/>
<line x1="96.4" y1="139" x2="103.6" y2="139" stroke="#2a2a2a" stroke-width="1"/>
<polygon points="548.4,117 553,117 553,137.6 548.4,137.6" fill="#555" stroke="#2a2a2a" stroke-width="1"/>
<line x1="514" y1="117.6" x2="554.4" y2="117.4" stroke="#1c1c1c" stroke-width="1.2"/>
<line x1="546" y1="137.7" x2="554.4" y2="137.7" stroke="#2a2a2a" stroke-width="1"/>
<text transform="translate(272 147) rotate(-90)" class="r" font-size="8.0" text-anchor="middle" letter-spacing="4.4">BED 1</text>
<text transform="translate(272.4 276) rotate(-90)" class="r" font-size="8.0" text-anchor="middle" letter-spacing="5.1">BED 2</text>
<text transform="translate(273 445) rotate(-90)" class="r" font-size="8.0" text-anchor="middle" letter-spacing="4.4">BED 3</text>
<text transform="translate(273 557.6) rotate(-90)" class="r" font-size="8.0" text-anchor="middle" letter-spacing="4.4">KIT.</text>
<text transform="translate(431.6 175.4) rotate(-90)" class="r" font-size="8.0" text-anchor="middle" letter-spacing="4.4">ENS.</text>
<text transform="translate(432 266.6) rotate(-90)" class="r" font-size="8.0" text-anchor="middle" letter-spacing="4.8">DRESS.</text>
<text transform="translate(416 386.5) rotate(-90)" class="r" font-size="8.0" text-anchor="middle" letter-spacing="4.4">BATH.</text>
<text transform="translate(416 447) rotate(-90)" class="r" font-size="8.0" text-anchor="middle" letter-spacing="4.4">SHR.</text>
<text transform="translate(416.4 518.5) rotate(-90)" class="r" font-size="8.0" text-anchor="middle" letter-spacing="4.4">WC</text>
<text transform="translate(416 595.2) rotate(-90)" class="r" font-size="8.0" text-anchor="middle" letter-spacing="4.6">LAUNDRY</text>
<text transform="translate(416.4 735.3) rotate(-90)" class="r" font-size="8.0" text-anchor="middle" letter-spacing="4.9">ENTRY</text>
<text transform="translate(179 699.4) rotate(-90)" class="r" font-size="8.0" text-anchor="middle" letter-spacing="4.4">DINING</text>
<text transform="translate(273 700) rotate(-90)" class="r" font-size="8.0" text-anchor="middle" letter-spacing="4.4">FAMILY</text>
<text transform="translate(344 899) rotate(-90)" class="r" font-size="8.0" text-anchor="middle" letter-spacing="4.4">LIVING</text>
<text transform="translate(579.2 907.6) rotate(-90)" class="r" font-size="8.2" text-anchor="middle" letter-spacing="4.35">PROPOSED FLOOR PLAN</text>
<text transform="translate(103.8 149.6) rotate(-90)" class="a" font-size="11.2" text-anchor="middle">A</text>
<text transform="translate(553.8 147.3) rotate(-90)" class="a" font-size="11.2" text-anchor="middle">A</text>
<text transform="translate(280.4 166.8) rotate(-90)" class="ib" font-size="7.2" textLength="17.4" lengthAdjust="spacingAndGlyphs">carpet</text>
<text transform="translate(440 192) rotate(-90)" class="ib" font-size="7.2" textLength="12" lengthAdjust="spacingAndGlyphs">tiles</text>
<text transform="translate(184.8 171) rotate(-90)" class="ib" font-size="7.2" textLength="34" lengthAdjust="spacingAndGlyphs">new window</text>
<text transform="translate(192 171) rotate(-90)" class="ib" font-size="7.2" textLength="34" lengthAdjust="spacingAndGlyphs">matches W1</text>
<text transform="translate(185.4 297) rotate(-90)" class="ib" font-size="7.2" textLength="24" lengthAdjust="spacingAndGlyphs">salvaged</text>
<text transform="translate(192.4 297) rotate(-90)" class="ib" font-size="7.2" textLength="20" lengthAdjust="spacingAndGlyphs">window</text>
<text transform="translate(222.4 297) rotate(-90)" class="ib" font-size="7.2" textLength="47" lengthAdjust="spacingAndGlyphs">centre window on</text>
<text transform="translate(231.4 297) rotate(-90)" class="ib" font-size="7.2" textLength="11" lengthAdjust="spacingAndGlyphs">wall</text>
<text transform="translate(306.4 172) rotate(-90)" class="ib" font-size="7.2" textLength="49.3" lengthAdjust="spacingAndGlyphs">frame wall with 2</text>
<text transform="translate(314.4 172) rotate(-90)" class="ib" font-size="7.2" textLength="60" lengthAdjust="spacingAndGlyphs">layers 'Gib Noiseline'</text>
<text transform="translate(306 67) rotate(-90)" class="ib" font-size="7.2" textLength="36" lengthAdjust="spacingAndGlyphs">new aluminium</text>
<text transform="translate(314.4 67) rotate(-90)" class="ib" font-size="7.2" textLength="38" lengthAdjust="spacingAndGlyphs">sliding door 3mt</text>
<text transform="translate(391.8 87) rotate(-90)" class="ib" font-size="7.2" textLength="31" lengthAdjust="spacingAndGlyphs">50 dia shr</text>
<text transform="translate(399.4 87) rotate(-90)" class="ib" font-size="7.2" textLength="33" lengthAdjust="spacingAndGlyphs">waste to GT</text>
<text transform="translate(418.8 67) rotate(-90)" class="ib" font-size="7.2" textLength="31" lengthAdjust="spacingAndGlyphs">new 100 WC</text>
<text transform="translate(427.8 67) rotate(-90)" class="ib" font-size="7.2" textLength="38" lengthAdjust="spacingAndGlyphs">branch waste</text>
<text transform="translate(365.4 163) rotate(-90)" class="ib" font-size="7.2" textLength="36" lengthAdjust="spacingAndGlyphs">40 dia. basin</text>
<text transform="translate(372.4 163) rotate(-90)" class="ib" font-size="7.2" textLength="36" lengthAdjust="spacingAndGlyphs">waste to GT</text>
<text transform="translate(389.6 192.7) rotate(-90)" class="ib" font-size="7.2" textLength="10.7" lengthAdjust="spacingAndGlyphs">new</text>
<text transform="translate(395.9 192.7) rotate(-90)" class="ib" font-size="7.2" textLength="12.3" lengthAdjust="spacingAndGlyphs">door</text>
<text transform="translate(388.4 242) rotate(-90)" class="ib" font-size="7.2" textLength="23.4" lengthAdjust="spacingAndGlyphs">salvaged</text>
<text transform="translate(395.9 242) rotate(-90)" class="ib" font-size="7.2" textLength="11.5" lengthAdjust="spacingAndGlyphs">door</text>
<text transform="translate(464.1 108.7) rotate(-90)" class="ib" font-size="7.6" textLength="18.7" lengthAdjust="spacingAndGlyphs">new GT</text>
<text transform="translate(471 155) rotate(-90)" class="ib" font-size="7.2" textLength="25" lengthAdjust="spacingAndGlyphs">salvaged</text>
<text transform="translate(479.4 155) rotate(-90)" class="ib" font-size="7.2" textLength="22" lengthAdjust="spacingAndGlyphs">window</text>
<text transform="translate(563.6 150) rotate(-90)" class="ib" font-size="7.6" textLength="25" lengthAdjust="spacingAndGlyphs">sheet A9</text>
<text transform="translate(356 698) rotate(-90)" class="ib" font-size="7.2" textLength="40" lengthAdjust="spacingAndGlyphs">new logburner</text>
<text transform="translate(363.4 698) rotate(-90)" class="ib" font-size="7.2" textLength="51" lengthAdjust="spacingAndGlyphs">refer specification</text>
<text transform="translate(370.4 698) rotate(-90)" class="ib" font-size="7.2" textLength="16" lengthAdjust="spacingAndGlyphs">sheet</text>
<text transform="translate(465.3 504.5) rotate(-90)" class="ib" font-size="8" textLength="9" lengthAdjust="spacingAndGlyphs">GT</text>
<text transform="translate(464.3 603) rotate(-90)" class="ib" font-size="8" textLength="9" lengthAdjust="spacingAndGlyphs">GT</text>
<text transform="translate(202.7 582.5) rotate(-90)" class="ib" font-size="8" textLength="9" lengthAdjust="spacingAndGlyphs">GT</text>
<text transform="translate(465.3 557) rotate(-90)" class="ib" font-size="8" textLength="9" lengthAdjust="spacingAndGlyphs">TV</text>
<text transform="translate(200.7 516.5) rotate(-90)" class="ib" font-size="8" textLength="9" lengthAdjust="spacingAndGlyphs">TV</text>
<text transform="translate(188.4 21.5) rotate(-90)" class="ib" font-size="7.2" textLength="9.5" lengthAdjust="spacingAndGlyphs">fall</text>
<text transform="translate(196 21.5) rotate(-90)" class="ib" font-size="7.2" textLength="10.5" lengthAdjust="spacingAndGlyphs">main</text>
<text transform="translate(248.4 141) rotate(-90) scale(0.95 1)" class="i" font-size="8.6" text-anchor="middle" letter-spacing="0.7">3656</text>
<text transform="translate(248.6 284) rotate(-90) scale(0.95 1)" class="i" font-size="8.6" text-anchor="middle" letter-spacing="0.7">3400</text>
<text transform="translate(249 85) rotate(-90) scale(0.95 1)" class="i" font-size="8" text-anchor="middle" letter-spacing="0.7">94</text>
<text transform="translate(249 217) rotate(-90) scale(0.95 1)" class="i" font-size="8" text-anchor="middle" letter-spacing="0.7">94</text>
<text transform="translate(249 323) rotate(-90) scale(0.95 1)" class="i" font-size="8" text-anchor="middle" letter-spacing="0.7">94</text>
<text transform="translate(222.2 86.5) rotate(-90) scale(0.95 1)" class="i" font-size="9.2" text-anchor="middle" letter-spacing="0.7">600</text>
<text transform="translate(223 116.4) rotate(0) scale(0.95 1)" class="i" font-size="8" text-anchor="middle" letter-spacing="0.3">989</text>
<text transform="translate(498.6 140.5) rotate(-90) scale(0.95 1)" class="i" font-size="8.6" text-anchor="middle" letter-spacing="0.7">2044</text>
<text transform="translate(516.6 140.5) rotate(-90) scale(0.95 1)" class="i" font-size="8.6" text-anchor="middle" letter-spacing="0.7">3656</text>
<text transform="translate(498.6 90) rotate(-90) scale(0.95 1)" class="i" font-size="8" text-anchor="middle" letter-spacing="0.7">856</text>
<text transform="translate(516.6 81.6) rotate(-90) scale(0.95 1)" class="i" font-size="8" text-anchor="middle" letter-spacing="0.7">94</text>
<text transform="translate(516.6 214) rotate(-90) scale(0.95 1)" class="i" font-size="8" text-anchor="middle" letter-spacing="0.7">94</text>
<text transform="translate(279 62) rotate(-90) scale(0.9 1)" class="b" font-size="8.6" text-anchor="middle" letter-spacing="-0.2">D3</text>
<text transform="translate(201 165) rotate(-90) scale(0.9 1)" class="b" font-size="8.6" text-anchor="middle" letter-spacing="-0.2">W4</text>
<text transform="translate(202 293) rotate(-90) scale(0.9 1)" class="b" font-size="8.6" text-anchor="middle" letter-spacing="-0.2">W3</text>
<text transform="translate(463 144) rotate(-90) scale(0.9 1)" class="b" font-size="8.6" text-anchor="middle" letter-spacing="-0.2">W2</text>
<text transform="translate(380.8 187) rotate(-90) scale(0.9 1)" class="b" font-size="8.6" text-anchor="middle" letter-spacing="-0.2">D2</text>
<text transform="translate(380.8 230.2) rotate(-90) scale(0.9 1)" class="b" font-size="8.6" text-anchor="middle" letter-spacing="-0.2">D1</text>
<line x1="430" y1="36.5" x2="434.5" y2="32.5" stroke="#2a2a2a" stroke-width="1"/>
</svg>
</body></html>
